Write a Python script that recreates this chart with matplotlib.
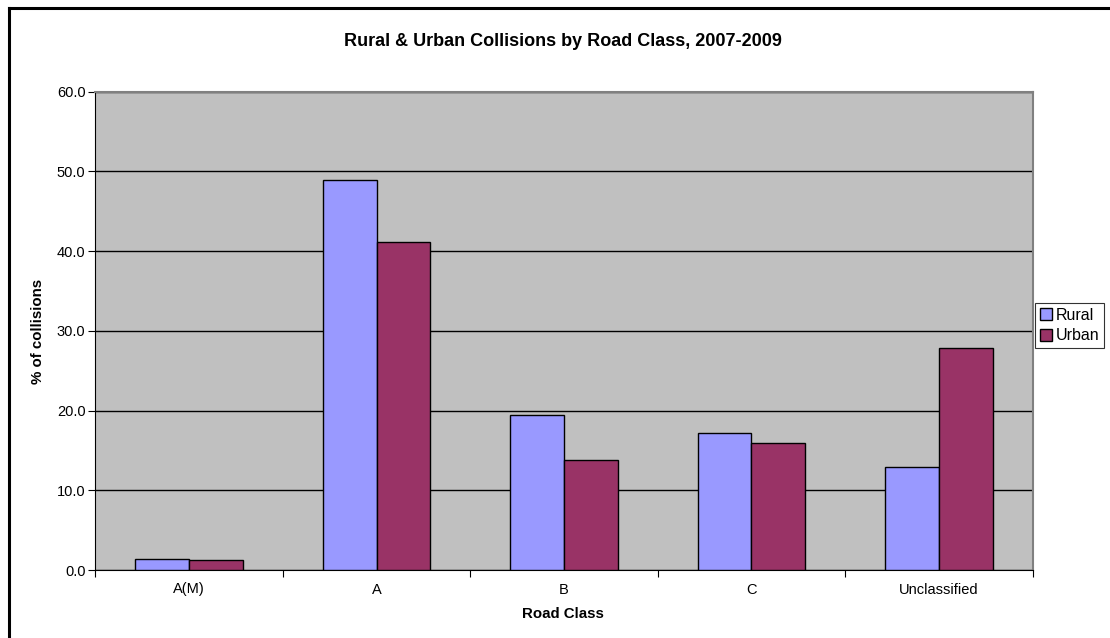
import numpy as np
import matplotlib.pyplot as plt
from matplotlib.lines import Line2D

categories = ["A(M)", "A", "B", "C", "Unclassified"]
rural = [1.4, 48.9, 19.4, 17.2, 12.9]
urban = [1.2, 41.1, 13.8, 15.9, 27.9]

plt.rcParams["font.family"] = ["Liberation Sans", "DejaVu Sans"]

fig = plt.figure(figsize=(11.1, 6.38), dpi=100)
ax = fig.add_axes([95.3 / 1110, 1 - 570 / 638, (1032.7 - 95.3) / 1110, (570 - 91.7) / 638])

x = np.arange(len(categories))
w = 1 / 3.5
ax.bar(x - w / 2, rural, w, color="#9999FF", edgecolor="black", linewidth=1, label="Rural", zorder=3)
ax.bar(x + w / 2, urban, w, color="#993366", edgecolor="black", linewidth=1, label="Urban", zorder=3)

ax.set_facecolor("#C0C0C0")
ax.set_xlim(-0.5, len(categories) - 0.5)
ax.set_ylim(0, 60)
ax.set_yticks(np.arange(0, 61, 10))
ax.set_yticklabels([f"{v:.1f}" for v in np.arange(0, 61, 10)], fontsize=10.5)
ax.yaxis.grid(True, color="black", linewidth=1, zorder=1)
ax.set_axisbelow(True)

ax.set_xticks(x)
ax.set_xticklabels(categories, fontsize=10.5)
ax.set_xticks(np.arange(-0.5, len(categories)), minor=True)
ax.tick_params(axis="x", which="major", length=0, pad=9)
ax.tick_params(axis="x", which="minor", length=5, direction="out", width=0.8)
ax.tick_params(axis="y", length=5, direction="out", width=0.8, pad=2)

for s in ["top", "right"]:
    ax.spines[s].set_color("#808080")
    ax.spines[s].set_linewidth(1.5)
ax.spines["left"].set_color("black")
ax.spines["bottom"].set_color("black")

fig.text(563 / 1110, 1 - 42 / 638, "Rural & Urban Collisions by Road Class, 2007-2009",
         ha="center", va="center", fontsize=13, fontweight="bold")
fig.text(563 / 1110, 1 - 614 / 638, "Road Class", ha="center", va="center",
         fontsize=10.8, fontweight="bold")
fig.text(38 / 1110, 1 - 331 / 638, "% of collisions", ha="center", va="center",
         rotation=90, fontsize=10.8, fontweight="bold")

leg = fig.legend(loc="upper left", bbox_to_anchor=(1035 / 1110, 1 - 303 / 638),
                 fontsize=11.5, frameon=True, fancybox=False, edgecolor="black",
                 handlelength=0.75, handleheight=0.75, handletextpad=0.25,
                 borderpad=0.3, labelspacing=0.35, borderaxespad=0)
leg.get_frame().set_linewidth(0.8)

# outer chart border (only top and left visible in the crop)
fig.add_artist(Line2D([9 / 1110, 1.0], [1 - 8 / 638, 1 - 8 / 638],
                      transform=fig.transFigure, color="black", linewidth=2.2))
fig.add_artist(Line2D([9 / 1110, 9 / 1110], [0.0, 1 - 8 / 638],
                      transform=fig.transFigure, color="black", linewidth=2.2))

fig.savefig("out.png", dpi=100)
